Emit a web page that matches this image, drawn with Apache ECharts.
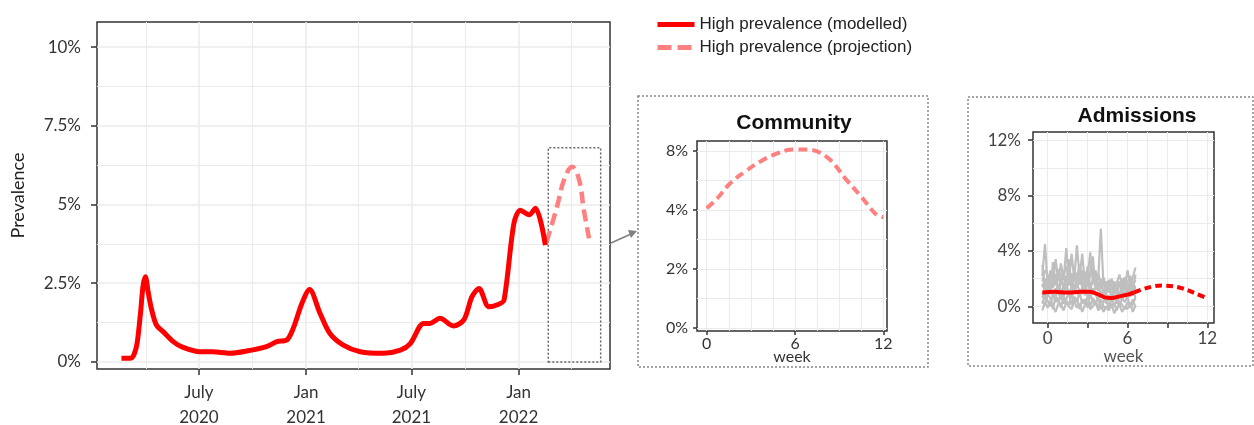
<!DOCTYPE html>
<html lang="en">
<head>
<meta charset="UTF-8">
<title>High prevalence</title>
<script src="https://cdn.jsdelivr.net/npm/echarts@6/dist/echarts.min.js"></script>
<style>
    *{margin:0;padding:0;}
    body{background:#fff;overflow:hidden;}
    #main{width:1254px;height:425px;}
</style>
</head>
<body>
<div id="main"></div>
<script>
// ---- main panel : prevalence (%) ----
var mainDates = ['2020-02-19','2020-03-07','2020-03-12','2020-03-17','2020-03-23','2020-03-27','2020-03-31','2020-04-05',
    '2020-04-11','2020-04-19','2020-05-01','2020-05-18','2020-06-01','2020-07-03','2020-07-25','2020-08-23','2020-09-21',
    '2020-10-25','2020-11-12','2020-11-29','2020-12-10','2020-12-25','2021-01-07','2021-01-25','2021-02-11','2021-03-06',
    '2021-04-04','2021-05-14','2021-06-12','2021-06-29','2021-07-22','2021-08-02','2021-08-19','2021-09-11','2021-09-29',
    '2021-10-13','2021-10-25','2021-11-11','2021-11-28','2021-12-07','2021-12-24','2022-01-04','2022-01-19','2022-01-30',
    '2022-02-16'];
var modelled = [0.11,0.12,0.25,0.6,1.6,2.4,2.7,2.2,
    1.64,1.17,0.95,0.64,0.48,0.32,0.32,0.27,0.34,
    0.48,0.64,0.69,1.06,1.86,2.3,1.54,0.9,0.53,
    0.32,0.27,0.37,0.58,1.22,1.22,1.38,1.14,1.33,
    2.07,2.33,1.75,1.83,1.96,4.4,4.82,4.67,4.88,
    3.71];
var projDates = ['2022-02-18','2022-03-08','2022-03-20','2022-04-03','2022-04-15','2022-04-23','2022-05-02'];
var projection = [3.8,4.93,5.78,6.2,5.78,4.83,3.92];
var mainYTicks = [0, 2.5, 5, 7.5, 10];
var mainYMinor = [1.25, 3.75, 6.25, 8.75];
var mainXTicks = ['2020-07-01','2021-01-01','2021-07-01','2022-01-01'];
var mainXMinor = ['2020-04-01','2020-10-01','2021-04-01','2021-10-01','2022-04-01'];
var monthNames = ['Jan','Feb','Mar','Apr','May','June','July','Aug','Sep','Oct','Nov','Dec'];

// ---- community inset (weeks, %) ----
var commWeeks = [0,0.68,1.58,2.6,3.62,4.7,5.88,6.79,8.15,9.51,10.5,11.55,12];
var commValues = [4.12,4.75,5.8,6.6,7.28,7.8,8.1,8.1,7.6,6.03,4.9,3.83,3.76];
var commYLabels = ['0%','2%','4%','8%'];
var commXTicks = [0, 6, 12];
var commXMinor = [1.5, 3, 4.5, 7.5, 9, 10.5];
var commYMinor = [0.5, 1.5, 2.5];

// ---- admissions inset (weeks, %) ----
var admWeeks = [-0.4,-0.2,0,0.2,0.4,0.6,0.8,1.0,1.2,1.4,1.6,1.8,2.0,2.2,2.4,2.6,2.8,3.0,3.2,3.4,3.6,3.8,4.0,4.2,4.4,4.6,4.8,5.0,5.2,5.4,5.6,5.8,6.0,6.2,6.4,6.6];
var admRun1 = [2.2,4.5,1.6,2.0,1.7,3.4,1.8,3.1,1.9,4.2,1.7,3.8,2.0,4.4,2.1,3.8,1.6,2.0,3.9,1.8,1.5,2.0,5.6,1.4,1.8,1.2,2.0,1.3,1.7,2.3,1.5,1.4,2.6,1.6,2.1,2.8];
var admRun2 = [1.8,2.6,2.3,1.5,2.4,1.9,2.7,1.6,2.2,2.9,2.0,1.7,2.6,2.1,3.0,1.9,2.5,1.8,2.2,2.8,1.7,2.4,1.6,2.1,1.3,1.9,1.5,1.1,1.8,1.4,2.0,1.2,1.7,2.2,1.5,1.9];
var admRun3 = [0.6,1.2,0.8,1.4,0.7,1.3,1.0,0.5,1.5,0.9,1.2,0.6,1.3,1.0,0.7,1.4,0.8,1.1,0.6,1.3,0.9,0.4,1.0,0.6,0.2,0.8,0.3,0.7,0.2,0.9,0.5,1.1,0.6,1.2,0.8,1.0];
var admRun4 = [-0.3,0.3,-0.1,0.4,0.0,-0.4,0.2,0.1,-0.3,0.3,0.0,-0.2,0.4,-0.1,0.2,-0.4,0.1,0.3,-0.2,0.0,0.4,-0.3,0.1,-0.4,0.0,-0.3,0.2,-0.5,-0.1,0.1,-0.4,0.0,-0.2,0.3,-0.4,0.1];
var admRun5 = [1.0,0.5,1.7,0.9,1.1,0.6,1.6,1.2,0.7,1.8,0.8,1.4,0.9,1.6,1.1,0.9,1.9,0.7,1.5,1.0,1.3,1.7,0.8,1.2,0.9,0.4,1.1,0.6,1.0,0.5,1.2,0.8,1.4,0.7,1.3,0.6];
var admRun6 = [1.4,2.0,1.1,2.6,1.3,2.2,0.9,1.8,2.4,1.2,2.7,1.5,1.0,2.3,1.6,2.0,1.2,2.9,1.4,1.7,2.5,1.1,1.9,0.8,1.5,1.0,1.7,0.9,1.3,1.8,0.9,1.6,1.1,1.9,1.2,2.3];
var admRun7 = [0.2,0.8,0.4,0.0,0.9,0.3,0.6,-0.1,0.7,0.4,0.1,0.9,0.3,0.6,-0.2,0.5,0.2,0.7,0.0,0.6,0.3,-0.1,0.5,0.0,-0.2,0.3,-0.1,0.2,-0.3,0.4,0.1,-0.2,0.3,0.0,0.5,-0.1];
var admRun8 = [3.0,1.3,2.0,1.0,3.2,1.5,2.2,2.4,1.1,1.6,3.4,1.2,2.2,1.4,1.8,2.6,1.3,1.5,2.4,3.6,1.2,1.4,2.0,0.9,1.0,1.6,0.7,1.5,1.2,0.8,1.7,2.1,0.9,1.4,1.0,1.5];
var admRun9 = [1.6,1.1,2.1,1.3,1.9,2.3,1.2,2.0,1.4,2.2,1.5,2.4,1.1,1.8,2.5,1.3,2.1,1.6,1.2,2.0,2.6,1.5,1.3,1.8,1.1,1.4,1.2,1.8,0.9,1.6,1.3,1.9,1.0,1.5,1.8,1.2];
var admRun10 = [0.4,0.1,0.9,0.6,-0.2,0.8,0.3,0.9,0.2,0.6,0.9,0.1,0.7,0.3,1.0,0.2,0.5,-0.1,0.9,0.3,0.1,0.7,-0.2,0.4,0.5,-0.1,0.6,0.1,0.4,0.0,0.6,0.3,0.7,-0.1,0.2,0.6];
var admFitWeeks = [-0.4,0.5,1.5,2.5,3.1,3.7,4.3,4.8,5.4,6.0,6.5];
var admFit = [1.0,1.05,1.0,1.05,1.05,0.9,0.65,0.6,0.72,0.85,1.0];
var admProjWeeks = [6.5,7.2,8.0,8.7,9.45,10.2,11.0,11.8];
var admProj = [1.0,1.25,1.45,1.5,1.44,1.28,0.98,0.66];
var admYTicks = [0, 4, 8, 12];
var admYMinor = [2, 6, 10];
var admXTicks = [0, 3, 6, 9, 12];
var admXLabels = [0, 6, 12];
var admXMinor = [1.5, 4.5, 7.5, 10.5];

var RED = '#ff0000';
var PINK = '#ff8080';
var GRIDLINE = '#ebebeb';
var TICKFONT = 'Lato';

function day(s) { return new Date(s + 'T00:00:00').getTime(); }
function pairs(xs, ys) { return xs.map(function (x, i) { return [x, ys[i]]; }); }
// the community panel places 0%, 2%, 4% and 8% at equal steps
function commPos(v) { return v <= 4 ? v / 2 : 2 + (v - 4) / 4; }

var xMin = day('2020-01-08'), xMax = day('2022-06-07');

function minorAxis(gridIndex, min, max, values) {
    return {
        type: 'value', gridIndex: gridIndex, min: min, max: max,
        axisLine: {show: false, onZero: false},
        axisTick: {show: false, customValues: values},
        axisLabel: {show: false, customValues: values},
        splitLine: {show: true, lineStyle: {color: GRIDLINE, width: 1}}
    };
}

var myChart = echarts.init(document.getElementById('main'));

var option = {
    animation: false,
    backgroundColor: '#fff',
    title: [
        {text: 'Community', left: 789, top: 108, textAlign: 'center',
            textStyle: {fontFamily: 'Liberation Sans', fontWeight: 'bold', fontSize: 21, color: '#111'}},
        {text: 'Admissions', left: 1132, top: 101, textAlign: 'center',
            textStyle: {fontFamily: 'Liberation Sans', fontWeight: 'bold', fontSize: 21, color: '#111'}}
    ],
    legend: {
        orient: 'vertical', left: 650, top: 11,
        itemWidth: 37, itemHeight: 14, itemGap: 6,
        textStyle: {fontFamily: 'Liberation Sans', fontSize: 17, color: '#222'},
        data: [
            {name: 'High prevalence (modelled)', itemStyle: {opacity: 0}, lineStyle: {width: 5}},
            {name: 'High prevalence (projection)', itemStyle: {opacity: 0}, lineStyle: {width: 5, type: [14, 6]}}
        ]
    },
    grid: [
        {left: 97, top: 22, width: 513, height: 347, show: true, borderColor: '#333', borderWidth: 1.5, outerBoundsMode: 'none'},
        {left: 697, top: 141, width: 190, height: 190, show: true, borderColor: '#333', borderWidth: 1.5, outerBoundsMode: 'none'},
        {left: 1033, top: 132, width: 181, height: 191, show: true, borderColor: '#333', borderWidth: 1.5, outerBoundsMode: 'none'}
    ],
    xAxis: [
        {
            type: 'value', gridIndex: 0, min: xMin, max: xMax,
            axisLine: {show: false, onZero: false},
            axisTick: {show: true, length: 6, customValues: mainXTicks.map(day), lineStyle: {color: '#333', width: 1.5}},
            axisLabel: {
                customValues: mainXTicks.map(day), margin: 11,
                fontFamily: TICKFONT, fontSize: 17, color: '#333', lineHeight: 25,
                formatter: function (v) {
                    var d = new Date(v);
                    return monthNames[d.getMonth()] + '\n' + d.getFullYear();
                }
            },
            splitLine: {show: true, lineStyle: {color: GRIDLINE, width: 1.5}}
        },
        minorAxis(0, xMin, xMax, mainXMinor.map(day)),
        {
            type: 'value', gridIndex: 1, min: -0.66, max: 12.25,
            name: 'week', nameLocation: 'middle', nameGap: 18, nameMoveOverlap: false,
            nameTextStyle: {fontFamily: TICKFONT, fontSize: 16, color: '#333'},
            axisLine: {show: false, onZero: false},
            axisTick: {length: 4, customValues: commXTicks, lineStyle: {color: '#333', width: 1.5}},
            axisLabel: {customValues: commXTicks, margin: 5, fontFamily: TICKFONT, fontSize: 16, color: '#333'},
            splitLine: {show: true, lineStyle: {color: GRIDLINE, width: 1}}
        },
        minorAxis(1, -0.66, 12.25, commXMinor),
        {
            type: 'value', gridIndex: 2, min: -1.1, max: 12.5,
            name: 'week', nameLocation: 'middle', nameGap: 20,
            nameTextStyle: {fontFamily: TICKFONT, fontSize: 17, color: '#555'},
            axisLine: {show: false, onZero: false},
            axisTick: {length: 5, customValues: admXTicks, lineStyle: {color: '#333', width: 1.5}},
            axisLabel: {customValues: admXLabels, margin: 7, fontFamily: TICKFONT, fontSize: 17, color: '#444'},
            splitLine: {show: true, lineStyle: {color: GRIDLINE, width: 1}}
        },
        minorAxis(2, -1.1, 12.5, admXMinor)
    ],
    yAxis: [
        {
            type: 'value', gridIndex: 0, min: -0.23, max: 10.8,
            name: 'Prevalence', nameLocation: 'middle', nameGap: 70,
            nameTextStyle: {fontFamily: TICKFONT, fontSize: 18, color: '#222'},
            axisLine: {show: false, onZero: false},
            axisTick: {length: 6, customValues: mainYTicks, lineStyle: {color: '#333', width: 1.5}},
            axisLabel: {customValues: mainYTicks, margin: 16, fontFamily: TICKFONT, fontSize: 17, color: '#333',
                formatter: function (v) { return v + '%'; }},
            splitLine: {show: true, lineStyle: {color: GRIDLINE, width: 1.5}}
        },
        minorAxis(0, -0.23, 10.8, mainYMinor),
        {
            type: 'value', gridIndex: 1, min: -0.05, max: 3.17,
            axisLine: {show: false, onZero: false},
            axisTick: {length: 4, customValues: [0, 1, 2, 3], lineStyle: {color: '#333', width: 1.5}},
            axisLabel: {customValues: [0, 1, 2, 3], margin: 9, fontFamily: TICKFONT, fontSize: 16, color: '#333',
                formatter: function (v) { return commYLabels[Math.round(v)]; }},
            splitLine: {show: true, lineStyle: {color: GRIDLINE, width: 1}}
        },
        minorAxis(1, -0.05, 3.17, commYMinor),
        {
            type: 'value', gridIndex: 2, min: -1.2, max: 12.58,
            axisLine: {show: false, onZero: false},
            axisTick: {length: 5, customValues: admYTicks, lineStyle: {color: '#333', width: 1.5}},
            axisLabel: {customValues: admYTicks, margin: 12, fontFamily: TICKFONT, fontSize: 17, color: '#444',
                formatter: function (v) { return v + '%'; }},
            splitLine: {show: true, lineStyle: {color: GRIDLINE, width: 1}}
        },
        minorAxis(2, -1.2, 12.58, admYMinor)
    ],
    series: [
        {
            name: 'High prevalence (projection)', type: 'line', xAxisIndex: 0, yAxisIndex: 0,
            data: pairs(projDates.map(day), projection), smooth: 0.4, symbol: 'none',
            itemStyle: {color: PINK},
            lineStyle: {color: PINK, width: 4.5, type: [12, 6]},
            markArea: {
                silent: true,
                itemStyle: {color: 'rgba(0,0,0,0)', borderColor: '#666', borderWidth: 1.5, borderType: [2, 2]},
                data: [[{xAxis: day('2022-02-21'), yAxis: -0.01}, {xAxis: day('2022-05-22'), yAxis: 6.8}]]
            }
        },
        {
            name: 'High prevalence (modelled)', type: 'line', xAxisIndex: 0, yAxisIndex: 0,
            data: pairs(mainDates.map(day), modelled), smooth: 0.3, symbol: 'none',
            itemStyle: {color: RED},
            lineStyle: {color: RED, width: 5}
        },
        {
            name: 'Community', type: 'line', xAxisIndex: 2, yAxisIndex: 2,
            data: pairs(commWeeks, commValues.map(commPos)), smooth: 0.4, symbol: 'none',
            lineStyle: {color: PINK, width: 4, type: [9, 5]}
        }
    ].concat([admRun1, admRun2, admRun3, admRun4, admRun5, admRun6, admRun7, admRun8, admRun9, admRun10].map(function (run) {
        return {
            name: 'run', type: 'line', xAxisIndex: 4, yAxisIndex: 4,
            data: pairs(admWeeks, run), symbol: 'none',
            lineStyle: {color: '#bfbfbf', width: 2.2}
        };
    })).concat([
        {
            name: 'Admissions (modelled)', type: 'line', xAxisIndex: 4, yAxisIndex: 4,
            data: pairs(admFitWeeks, admFit), smooth: 0.4, symbol: 'none',
            lineStyle: {color: RED, width: 4}
        },
        {
            name: 'Admissions (projection)', type: 'line', xAxisIndex: 4, yAxisIndex: 4,
            data: pairs(admProjWeeks, admProj), smooth: 0.4, symbol: 'none',
            lineStyle: {color: RED, width: 4, type: [7, 4]}
        }
    ]),
    graphic: [
        // dotted frames around the two insets
        {type: 'rect', shape: {x: 638, y: 96, width: 290, height: 271}, silent: true,
            style: {fill: 'none', stroke: '#888', lineWidth: 1.5, lineDash: [2, 2]}},
        {type: 'rect', shape: {x: 968, y: 97, width: 285, height: 269}, silent: true,
            style: {fill: 'none', stroke: '#888', lineWidth: 1.5, lineDash: [2, 2]}},
        // arrow from the projection box to the community inset
        {type: 'line', shape: {x1: 611, y1: 243, x2: 631, y2: 234}, silent: true,
            style: {stroke: '#808080', lineWidth: 1.5}},
        {type: 'polygon', shape: {points: [[637, 231], [631, 238], [628, 230]]}, silent: true,
            style: {fill: '#808080'}}
    ]
};

myChart.setOption(option);
window.onresize = myChart.resize;
</script>
</body>
</html>
